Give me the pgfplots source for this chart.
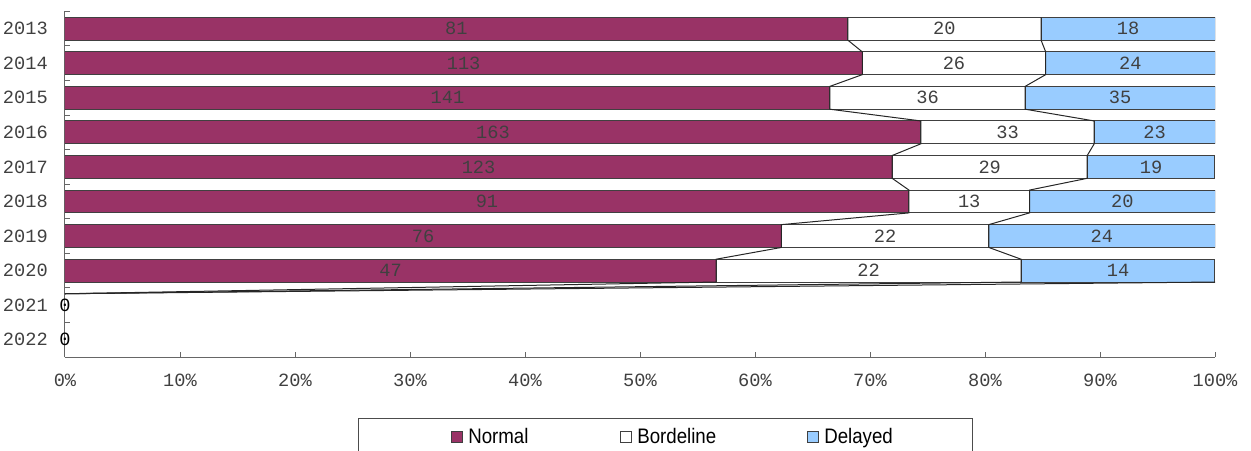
\documentclass[border=0pt]{standalone}
\usepackage{pgfplots}
\pgfplotsset{compat=1.18}
\usepackage{pgfplotstable}
\usepackage{fontspec}
\setmainfont{Liberation Sans}
\newfontfamily\mono{Liberation Mono}
\newfontfamily\legfont[FakeStretch=0.89]{Liberation Sans}
\definecolor{normal}{HTML}{993366}
\definecolor{delayed}{HTML}{99CCFF}
\definecolor{lab}{HTML}{404040}

% y: 9 = 2013 ... 2 = 2020
\pgfplotstableread{
y n b d t
9 81 20 18 119
8 113 26 24 163
7 141 36 35 212
6 163 33 23 219
5 123 29 19 171
4 91 13 20 124
3 76 22 24 122
2 47 22 14 83
}\data

% bar edges (top / bottom of each bar) for the series lines
\pgfplotstableread{
y n b d t
9.33 81 20 18 119
8.67 81 20 18 119
8.33 113 26 24 163
7.67 113 26 24 163
7.33 141 36 35 212
6.67 141 36 35 212
6.33 163 33 23 219
5.67 163 33 23 219
5.33 123 29 19 171
4.67 123 29 19 171
4.33 91 13 20 124
3.67 91 13 20 124
3.33 76 22 24 122
2.67 76 22 24 122
2.33 47 22 14 83
1.67 47 22 14 83
1.33 0 0 0 1
}\edges

\pgfplotsset{
  base/.style={scale only axis, width=862.5pt, height=259.2pt,
    xmin=0, xmax=100, ymin=-0.5, ymax=9.5, at={(0,0)}, anchor=south west},
  sq/.style={legend image code/.code={\draw[##1] (0pt,-4.125pt) rectangle (8.25pt,4.125pt);}},
}

\begin{document}
\begin{tikzpicture}
\begin{axis}[base,
  xbar stacked, bar width=17.1pt,
  axis x line*=bottom, axis y line*=left,
  axis line style={black!60, line width=0.75pt},
  tick align=inside, major tick length=3.75pt,
  tick style={black!60, line width=0.75pt},
  xtick={0,10,...,100},
  xticklabels={0\%,10\%,20\%,30\%,40\%,50\%,60\%,70\%,80\%,90\%,100\%},
  xticklabel style={font=\mono\fontsize{14}{16}\selectfont, text=lab, anchor=center, yshift=-17.25pt},
  ytick={-0.5,0.5,...,9.5}, yticklabels={},
  legend columns=3,
  legend style={draw=none, fill=none, at={(axis description cs:0.3357,-0.232)}, anchor=west,
    font=\legfont\fontsize{15.75}{18}\selectfont, inner sep=0pt,
    nodes={inner xsep=3.75pt, inner ysep=0pt}},
]
\addplot[sq, fill=normal, draw=black!75, line width=0.75pt] table[x expr=\thisrow{n}/\thisrow{t}*100, y=y]{\data};
\addplot[sq, fill=white, draw=black!75, line width=0.75pt] table[x expr=\thisrow{b}/\thisrow{t}*100, y=y]{\data};
\addplot[sq, fill=delayed, draw=black!75, line width=0.75pt] table[x expr=\thisrow{d}/\thisrow{t}*100, y=y]{\data};
\addlegendentry{\makebox[110.25pt][l]{Normal}}
\addlegendentry{\makebox[123.75pt][l]{Bordeline}}
\addlegendentry{Delayed}
\end{axis}

\begin{axis}[base, clip=false, no markers,
  axis x line*=bottom, axis y line*=left,
  axis line style={draw=none},
  xtick=\empty, ytick={0,...,9},
  yticklabels={2022,2021,2020,2019,2018,2017,2016,2015,2014,2013},
  major tick length=0pt,
  yticklabel style={font=\mono\fontsize{14}{16}\selectfont, text=lab, inner sep=0pt, anchor=east, xshift=-12.75pt},
  /pgf/number format/assume math mode=true,
  every node near coord/.append style={anchor=center, font=\mono\fontsize{14}{16}\selectfont, text=lab},
]
% series lines
\addplot[black!85, line width=0.75pt] table[x expr=\thisrow{n}/\thisrow{t}*100, y=y]{\edges};
\addplot[black!85, line width=0.75pt] table[x expr=(\thisrow{n}+\thisrow{b})/\thisrow{t}*100, y=y]{\edges};
\addplot[black!85, line width=0.75pt] coordinates {(100,1.67) (0,1.33)};
% value labels
\addplot[draw=none, nodes near coords, point meta=explicit] table[x expr=\thisrow{n}/\thisrow{t}*50, y=y, meta=n]{\data};
\addplot[draw=none, nodes near coords, point meta=explicit] table[x expr=(\thisrow{n}+0.5*\thisrow{b})/\thisrow{t}*100, y=y, meta=b]{\data};
\addplot[draw=none, nodes near coords, point meta=explicit] table[x expr=(\thisrow{n}+\thisrow{b}+0.5*\thisrow{d})/\thisrow{t}*100, y=y, meta=d]{\data};
\addplot[draw=none, nodes near coords, point meta=explicit, every node near coord/.append style={text=black}] coordinates {(0,1) [0] (0,0) [0]};
% legend frame
\draw[black!70, line width=0.75pt] (axis description cs:0.2548,-0.1765) rectangle (axis description cs:0.7887,-0.32);
\end{axis}
\pgfresetboundingbox
\useasboundingbox (-48.75pt,-69.75pt) rectangle (889.5pt,267.75pt);
\end{tikzpicture}
\end{document}
